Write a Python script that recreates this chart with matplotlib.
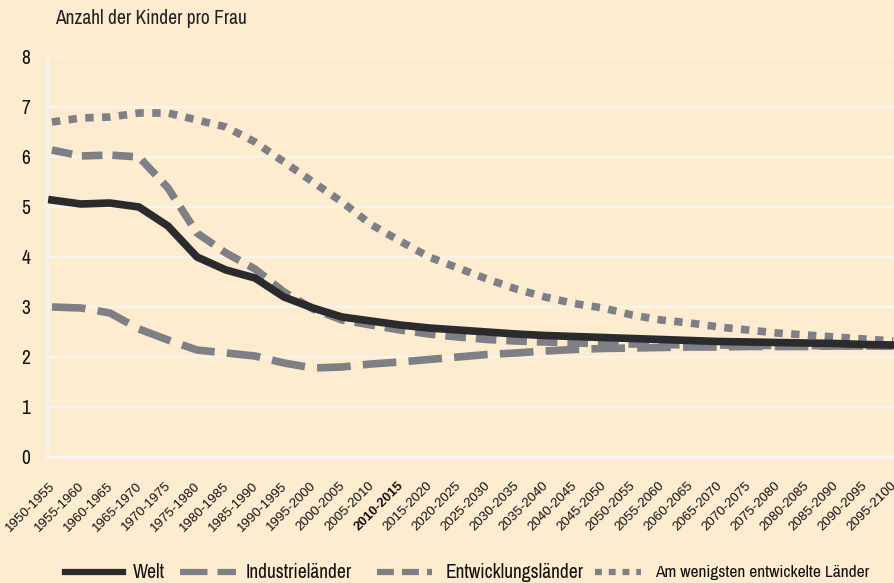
import matplotlib
matplotlib.use("Agg")
import matplotlib.pyplot as plt
import matplotlib.transforms as mtransforms
from matplotlib.lines import Line2D
from matplotlib import font_manager

names = {f.name for f in font_manager.fontManager.ttflist}
narrow = next((n for n in ["Archivo Narrow", "PT Sans Narrow", "Roboto Condensed",
                           "Fira Sans Condensed"] if n in names), "DejaVu Sans")
plt.rcParams['font.family'] = [narrow, 'DejaVu Sans']

perioden = ["%d-%d" % (y, y + 5) for y in range(1950, 2100, 5)]

welt = [5.14, 5.06, 5.08, 5.0, 4.62, 4.0, 3.74, 3.58, 3.2, 2.98,
        2.8, 2.72, 2.64, 2.58, 2.54, 2.5, 2.46, 2.43, 2.41, 2.39,
        2.37, 2.35, 2.33, 2.31, 2.3, 2.29, 2.28, 2.27, 2.25, 2.24]
industrie = [3.0, 2.98, 2.88, 2.56, 2.34, 2.14, 2.08, 2.02, 1.88, 1.78,
             1.8, 1.86, 1.9, 1.95, 2.0, 2.05, 2.08, 2.12, 2.15, 2.17,
             2.18, 2.19, 2.2, 2.2, 2.21, 2.21, 2.21, 2.22, 2.22, 2.22]
entwicklung = [6.14, 6.02, 6.04, 6.0, 5.38, 4.48, 4.08, 3.76, 3.3, 2.96,
               2.74, 2.64, 2.54, 2.46, 2.4, 2.35, 2.32, 2.3, 2.28, 2.27,
               2.26, 2.25, 2.24, 2.24, 2.23, 2.23, 2.23, 2.22, 2.22, 2.22]
ldc = [6.7, 6.78, 6.8, 6.88, 6.88, 6.74, 6.6, 6.3, 5.9, 5.5,
       5.1, 4.65, 4.32, 4.0, 3.78, 3.56, 3.36, 3.2, 3.07, 2.98,
       2.84, 2.74, 2.68, 2.6, 2.54, 2.48, 2.44, 2.4, 2.36, 2.32]

serien = ["Welt", "Industrieländer", "Entwicklungsländer", "Am wenigsten entwickelte Länder"]

bg = "#feecd0"
schwarz = "#2b2b2e"
grau = "#7f8085"
stile = [dict(color=schwarz), dict(color=grau, dashes=(4.4, 1.6)),
         dict(color=grau, dashes=(2.7, 1.3)), dict(color=grau, dashes=(1.1, 1.1))]

W, H = 894, 583
fig = plt.figure(figsize=(W / 100, H / 100), dpi=100, facecolor=bg)
ax = fig.add_axes([47 / W, 1 - 457 / H, 1 - 47 / W, 400 / H], facecolor=bg)

x = list(range(len(perioden)))
lw = 5.5
for werte, st, z in zip([welt, industrie, entwicklung, ldc], stile, [5, 4, 4, 3]):
    ax.plot(x, werte, lw=lw, dash_capstyle='butt', solid_joinstyle='round',
            zorder=z, **st)

ax.set_xlim(-0.17, 29.03)
ax.set_ylim(0, 8)
ax.set_yticks(range(0, 9))
ax.grid(axis='y', color='#f8f4ee', lw=1.5, zorder=0)
ax.set_axisbelow(True)
for s in ['top', 'right']:
    ax.spines[s].set_visible(False)
for s in ['left', 'bottom']:
    ax.spines[s].set_color('#f8f4ee')
    ax.spines[s].set_linewidth(2)
ax.tick_params(length=0)
ax.tick_params(axis='y', labelsize=14, pad=12, labelcolor='#111111')
ax.set_xticks(x)
ax.set_xticklabels(perioden, rotation=45, ha='right', va='center',
                   rotation_mode='anchor', fontsize=9.6, color='#111111',
                   family='Liberation Sans')
ax.tick_params(axis='x', pad=0)
off = mtransforms.ScaledTranslation(0.015, -0.27, fig.dpi_scale_trans)
for t in ax.get_xticklabels():
    t.set_transform(t.get_transform() + off)
    if t.get_text() == "2010-2015":
        t.set_fontweight('bold')

fig.text(55 / W, 1 - 18 / H, "Anzahl der Kinder pro Frau", fontsize=14,
         color='#222222', va='center')

# Legende unten
leg_y = 1 - 572 / H
proben = [(65, 123), (180, 236), (377, 432), (595, 641)]
textx = [133, 246, 446, 655]
groessen = [14, 14, 14, 12.5]
for (x0, x1), tx, st, name, fs in zip(proben, textx, stile, serien, groessen):
    fig.add_artist(Line2D([x0 / W, x1 / W], [leg_y, leg_y], transform=fig.transFigure,
                          lw=4.5, dash_capstyle='butt', **st))
    fig.text(tx / W, leg_y, name, fontsize=fs, color='#111111', va='center')

fig.savefig("out.png", dpi=100, facecolor=bg)
